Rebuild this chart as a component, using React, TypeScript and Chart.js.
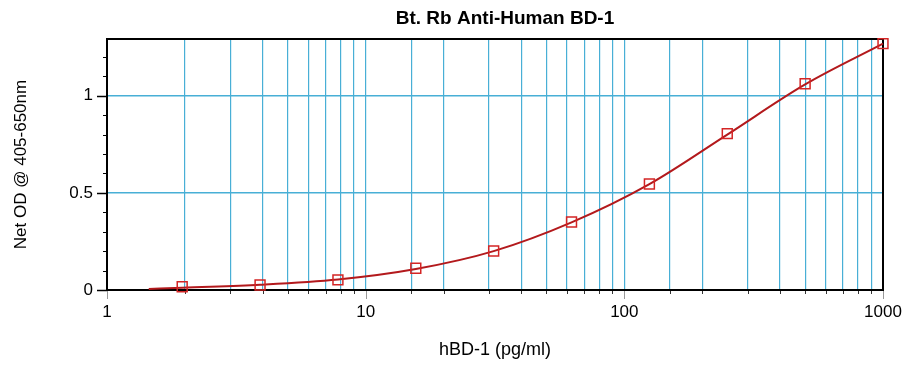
import React, { useEffect, useRef } from "react";
import { Chart, registerables } from "chart.js";

Chart.register(...registerables);

// ---- data ----
const CONCENTRATIONS = [1.953, 3.906, 7.8125, 15.625, 31.25, 62.5, 125, 250, 500, 1000];
const OD_VALUES = [0.017, 0.026, 0.052, 0.112, 0.201, 0.35, 0.546, 0.805, 1.062, 1.268];
// fitted curve
const CURVE_X = [1.45, 1.953, 3.906, 7.8125, 15.625, 31.25, 62.5, 125, 250, 500, 1000];
const CURVE_Y = [0.005, 0.012, 0.027, 0.054, 0.108, 0.2, 0.348, 0.545, 0.8, 1.058, 1.268];
const Y_MAJOR_TICKS = [0, 0.5, 1];
const Y_MINOR_TICKS = [0.1, 0.2, 0.3, 0.4, 0.6, 0.7, 0.8, 0.9, 1.1, 1.2];
const X_MIN = 1;
const X_MAX = 1000;
const Y_MIN = 0;
const Y_MAX = 1.292;

const TITLE = "Bt. Rb Anti-Human BD-1";
const X_TITLE = "hBD-1 (pg/ml)";
const Y_TITLE = "Net OD @ 405-650nm";

const FONT = "'Liberation Sans', Arial, sans-serif";
const GRID_BLUE = "#48afd6";

const isMajor = (v: number) => Math.abs(Math.log10(v) - Math.round(Math.log10(v))) < 1e-9;

const framePlugin = {
  id: "frame",
  afterLayout(chart: any) {
    const tb = chart.titleBlock;
    if (tb) {
      const center = 505;
      tb.left = 2 * center - tb.right;
      tb.width = tb.right - tb.left;
    }
  },
  beforeDatasetsDraw(chart: any) {
    const { ctx, chartArea: a, scales } = chart;
    const xs = scales.x;
    const ys = scales.y;
    ctx.save();
    const seg = (x1: number, y1: number, x2: number, y2: number) => {
      ctx.beginPath();
      ctx.moveTo(x1, y1);
      ctx.lineTo(x2, y2);
      ctx.stroke();
    };
    // y minor ticks
    ctx.strokeStyle = "#000";
    ctx.lineWidth = 1;
    for (const v of Y_MINOR_TICKS) {
      const py = Math.round(ys.getPixelForValue(v)) + 0.5;
      seg(a.left - 4, py, a.left, py);
    }
    ctx.lineWidth = 1.5;
    for (const v of Y_MAJOR_TICKS) {
      const py = Math.round(ys.getPixelForValue(v)) + 0.5;
      seg(a.left - 10, py, a.left, py);
    }
    // x ticks
    for (const t of xs.ticks) {
      const px = Math.round(xs.getPixelForValue(t.value)) + 0.5;
      if (isMajor(t.value)) {
        ctx.strokeStyle = "#999";
        ctx.lineWidth = 1;
        seg(px, a.bottom, px, a.bottom + 9);
      } else {
        ctx.strokeStyle = "#333";
        ctx.lineWidth = 1;
        seg(px, a.bottom, px, a.bottom + 4);
      }
    }
    // frame
    ctx.strokeStyle = "#000";
    ctx.lineWidth = 2;
    ctx.strokeRect(a.left, a.top, a.right - a.left, a.bottom - a.top);
    ctx.restore();
  },
};

export default function App() {
  const canvasRef = useRef<HTMLCanvasElement | null>(null);

  useEffect(() => {
    document.body.style.margin = "0";
    const canvas = canvasRef.current;
    if (!canvas) return;
    const chart = new Chart(canvas, {
      type: "line",
      data: {
        datasets: [
          {
            label: "Standards",
            data: CONCENTRATIONS.map((x, i) => ({ x, y: OD_VALUES[i] })),
            showLine: false,
            pointStyle: "rect",
            pointRadius: 7,
            pointHoverRadius: 7,
            pointBorderColor: "#d42525",
            pointBackgroundColor: "rgba(0,0,0,0)",
            pointBorderWidth: 1.5,
            borderColor: "#d42525",
            clip: false as any,
          },
          {
            label: "Fit",
            data: CURVE_X.map((x, i) => ({ x, y: CURVE_Y[i] })),
            borderColor: "#b3191c",
            borderWidth: 2,
            pointRadius: 0,
            cubicInterpolationMode: "monotone",
            fill: false,
            clip: false as any,
          },
        ],
      },
      options: {
        responsive: false,
        animation: false,
        events: [],
        layout: { padding: { left: 0, right: 33, top: 0, bottom: 0 } },
        plugins: {
          legend: { display: false },
          tooltip: { enabled: false },
          title: {
            display: true,
            text: TITLE,
            color: "#000",
            font: { family: FONT, size: 19, weight: "bold", lineHeight: 1.2 },
            padding: { top: 6.9, bottom: 9.3 },
          },
        },
        scales: {
          x: {
            type: "logarithmic",
            min: X_MIN,
            max: X_MAX,
            border: { display: false },
            grid: {
              drawTicks: false,
              color: (c: any) => (c.tick && (c.tick.value === X_MIN || c.tick.value === X_MAX) ? "rgba(0,0,0,0)" : GRID_BLUE),
              lineWidth: 1.2,
            },
            ticks: {
              autoSkip: false,
              maxRotation: 0,
              padding: 12,
              color: "#000",
              font: { family: FONT, size: 17 },
              callback: (v: any) => (isMajor(Number(v)) ? String(Number(v)) : ""),
            },
            title: {
              display: true,
              text: X_TITLE,
              color: "#000",
              font: { family: FONT, size: 18 },
              padding: { top: 0, bottom: 11.2 },
            },
            afterFit: (s: any) => {
              s.height = 82;
            },
          },
          y: {
            type: "linear",
            min: Y_MIN,
            max: Y_MAX,
            border: { display: false },
            afterBuildTicks: (s: any) => {
              s.ticks = Y_MAJOR_TICKS.map((v) => ({ value: v }));
            },
            grid: {
              drawTicks: false,
              color: (c: any) => (c.tick && c.tick.value === 0 ? "rgba(0,0,0,0)" : GRID_BLUE),
              lineWidth: 1.5,
            },
            ticks: {
              padding: 14,
              color: "#000",
              font: { family: FONT, size: 17 },
              callback: (v: any) => String(v),
            },
            title: {
              display: true,
              text: Y_TITLE,
              color: "#000",
              font: { family: FONT, size: 17 },
              padding: { top: 10.8, bottom: 0 },
            },
            afterFit: (s: any) => {
              s.width = 107;
            },
          },
        },
      },
      plugins: [framePlugin],
    });
    return () => chart.destroy();
  }, []);

  return (
    <div style={{ width: 916, height: 372, background: "#fff" }}>
      <canvas ref={canvasRef} width={916} height={372} />
    </div>
  );
}
